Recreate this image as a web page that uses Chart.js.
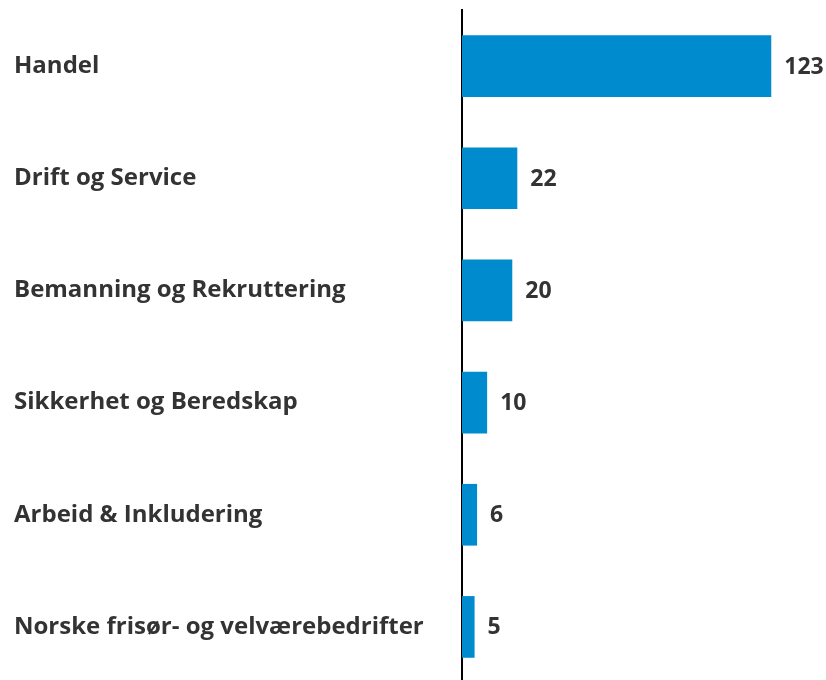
<!DOCTYPE html>
<html>
<head>
<meta charset="utf-8">
<script src="https://cdn.jsdelivr.net/npm/chart.js@4"></script>
<style>
    body { margin: 0; overflow: hidden; background: #fff; }
    #wrap { position: relative; width: 826px; height: 684px; }
</style>
</head>
<body>
<div id="wrap"><canvas id="chart"></canvas></div>
<script>
// Chart data
const categories = ['Handel', 'Drift og Service', 'Bemanning og Rekruttering', 'Sikkerhet og Beredskap', 'Arbeid & Inkludering', 'Norske frisør- og velværebedrifter'];
const values = [123, 22, 20, 10, 6, 5];

const textColor = '#333333';
const barColor = '#008BCF';
const fontFamily = '"Open Sans", "Noto Sans", sans-serif';
const font = { family: fontFamily, size: 24, weight: 'bold' };

// Draw the value at the end of each bar
const valueLabels = {
    id: 'valueLabels',
    afterDatasetsDraw(chart) {
        const ctx = chart.ctx;
        const meta = chart.getDatasetMeta(0);
        ctx.save();
        ctx.font = `bold 23px ${fontFamily}`;
        ctx.fillStyle = textColor;
        ctx.textAlign = 'left';
        ctx.textBaseline = 'middle';
        meta.data.forEach((bar, i) => {
            ctx.fillText(values[i], bar.x + 13, bar.y + 1);
        });
        ctx.restore();
    }
};

new Chart(document.getElementById('chart'), {
    type: 'bar',
    data: {
        labels: categories,
        datasets: [{
            data: values,
            backgroundColor: barColor,
            categoryPercentage: 1,
            barPercentage: 0.55
        }]
    },
    options: {
        indexAxis: 'y',
        responsive: true,
        maintainAspectRatio: false,
        animation: false,
        layout: { padding: { left: 14, right: 12, top: 10, bottom: 1 } },
        plugins: {
            legend: { display: false },
            tooltip: { enabled: false }
        },
        scales: {
            x: {
                display: false,
                min: 0,
                max: 140
            },
            y: {
                afterFit: scale => {
                    scale.width = 448;
                    scale.paddingTop = 0;
                    scale.paddingBottom = 0;
                },
                grid: { display: false },
                border: { display: true, color: '#000', width: 2 },
                ticks: {
                    crossAlign: 'far',
                    color: textColor,
                    font: font
                }
            }
        }
    },
    plugins: [valueLabels]
});
</script>
</body>
</html>
